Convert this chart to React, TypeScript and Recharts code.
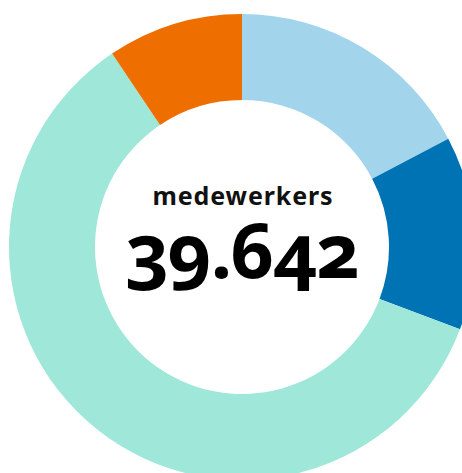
import React from "react";
import { PieChart, Pie, Cell, Label } from "recharts";

const categories = ["Groep A", "Groep B", "Groep C", "Groep D"];
const values = [6860, 5330, 23720, 3732];
const colors = ["#a2d5ec", "#0073b4", "#9fe7d9", "#ee6e00"];
const centerTitle = "medewerkers";
const centerValue = "39.642";

const data = categories.map((name, i) => ({ name, value: values[i] }));

const CenterLabel = (props: any) => {
  const vb = props.viewBox || {};
  const cx = vb.cx ?? 242;
  const cy = vb.cy ?? 247;
  return (
    <g>
      <text
        x={cx + 1}
        y={cy - 42}
        textAnchor="middle"
        fill="#111"
        style={{
          fontFamily: "'Noto Sans', 'Open Sans', sans-serif",
          fontWeight: 700,
          fontSize: 25,
          letterSpacing: 0.9,
        }}
      >
        {centerTitle}
      </text>
      <text
        x={cx}
        y={cy + 31}
        textAnchor="middle"
        fill="#000"
        style={{
          fontFamily: "'Noto Sans', 'Open Sans', sans-serif",
          fontWeight: 700,
          fontSize: 76,
          letterSpacing: -1.5,
          fontFeatureSettings: "'onum' 1",
          fontVariantNumeric: "oldstyle-nums",
        }}
      >
        {centerValue}
      </text>
    </g>
  );
};

export default function App() {
  return (
    <div style={{ position: "absolute", left: 0, top: 0, width: 462, height: 473, background: "#fff" }}>
      <PieChart width={462} height={473} margin={{ top: 0, right: 0, bottom: 0, left: 0 }}>
        <Pie
          data={data}
          dataKey="value"
          nameKey="name"
          cx={242}
          cy={247}
          innerRadius={147}
          outerRadius={233}
          startAngle={90}
          endAngle={-270}
          stroke="none"
          isAnimationActive={false}
        >
          {data.map((d, i) => (
            <Cell key={d.name} fill={colors[i]} />
          ))}
          <Label position="center" content={<CenterLabel />} />
        </Pie>
      </PieChart>
    </div>
  );
}
